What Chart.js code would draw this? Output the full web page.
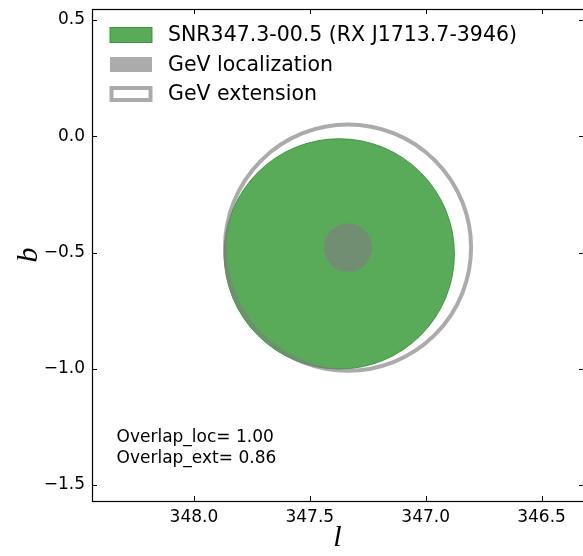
<!DOCTYPE html>
<html>
<head>
<meta charset="utf-8">
<script src="https://cdn.jsdelivr.net/npm/chart.js@4.4.1/dist/chart.umd.min.js"></script>
<style>
  html, body { margin: 0; padding: 0; background: #fff; }
  #wrap { width: 583px; height: 556px; }
</style>
</head>
<body>
<div id="wrap"><canvas id="c" width="583" height="556"></canvas></div>
<script>
// Sky regions in Galactic coordinates (degrees): centre l, centre b, radius
const regionNames = ['SNR347.3-00.5 (RX J1713.7-3946)', 'GeV localization', 'GeV extension'];
const snrRegion = [347.373, -0.506, 0.497];
const gevLocRegion = [347.335, -0.479, 0.104];
const gevExtRegion = [347.335, -0.479, 0.531];

// Axis limits and tick values
const lLimits = [346.321, 348.440];
const bLimits = [-1.569, 0.5475];
const lTicks = [348.0, 347.5, 347.0, 346.5];
const bTicks = [0.5, 0.0, -0.5, -1.0, -1.5];

// Annotation lines
const overlapLines = ['Overlap_loc= 1.00', 'Overlap_ext= 0.86'];

const FONT = "'DejaVu Sans', sans-serif";

// Point radius in pixels for a radius given in degrees
function radiusPx(ctx) {
  const raw = ctx.raw;
  const s = ctx.chart.scales && ctx.chart.scales.x;
  if (!raw || !s || !s.width) return 0;
  const r = Math.abs(s.getPixelForValue(raw.x + raw.rad) - s.getPixelForValue(raw.x));
  return isFinite(r) ? r : 0;
}

function region(arr) {
  return [{ x: arr[0], y: arr[1], rad: arr[2] }];
}

const fmt = v => v.toFixed(1).replace('-', '\u2212');

// Frame with inward tick marks on all four sides (right spine sits on the canvas edge)
const framePlugin = {
  id: 'frame',
  afterDraw(chart) {
    const { ctx, chartArea: a, scales } = chart;
    const right = a.right + 1;
    ctx.save();
    ctx.strokeStyle = '#000';
    ctx.lineWidth = 1;
    const L = 5;
    ctx.beginPath();
    lTicks.forEach(v => {
      const px = Math.round(scales.x.getPixelForValue(v)) + 0.5;
      ctx.moveTo(px, a.bottom); ctx.lineTo(px, a.bottom - L);
      ctx.moveTo(px, a.top); ctx.lineTo(px, a.top + L);
    });
    bTicks.forEach(v => {
      const py = Math.round(scales.y.getPixelForValue(v)) + 0.5;
      ctx.moveTo(a.left, py); ctx.lineTo(a.left + L, py);
      ctx.moveTo(right, py); ctx.lineTo(right - L, py);
    });
    ctx.stroke();
    ctx.lineWidth = 1.2;
    ctx.strokeRect(a.left + 0.5, a.top + 0.5, right - a.left, a.bottom - a.top);
    ctx.restore();
  }
};

// Legend box in the upper-left of the plot area
const legendPlugin = {
  id: 'regionLegend',
  afterDraw(chart) {
    const { ctx, chartArea: a } = chart;
    ctx.save();
    const x0 = a.left + 18, w = 42, h = 15, gap = 29.5, y0 = a.top + 26;
    const styles = [
      { fill: '#59ab59', stroke: 'rgba(44,150,44,0.9)', lw: 1 },
      { fill: 'rgba(128,128,128,0.66)', stroke: null, lw: 0 },
      { fill: '#ffffff', stroke: 'rgba(128,128,128,0.66)', lw: 4 }
    ];
    regionNames.forEach((name, i) => {
      const cy = y0 + i * gap;
      const s = styles[i];
      ctx.fillStyle = s.fill;
      ctx.fillRect(x0, cy - h / 2, w, h);
      if (s.stroke) {
        ctx.strokeStyle = s.stroke;
        ctx.lineWidth = s.lw;
        ctx.strokeRect(x0 + s.lw / 2 - 0.5, cy - h / 2 + s.lw / 2 - 0.5, w - s.lw + 1, h - s.lw + 1);
      }
      ctx.fillStyle = '#000';
      ctx.font = '20.5px ' + FONT;
      ctx.textBaseline = 'middle';
      ctx.textAlign = 'left';
      ctx.fillText(name, x0 + w + 16, cy + 1);
    });
    ctx.restore();
  }
};

// Overlap figures in the lower-left corner
const notePlugin = {
  id: 'note',
  afterDraw(chart) {
    const { ctx, chartArea: a } = chart;
    ctx.save();
    ctx.fillStyle = '#000';
    ctx.font = '17px ' + FONT;
    ctx.textBaseline = 'middle';
    ctx.textAlign = 'left';
    const x = a.left + 0.05 * (a.right - a.left);
    overlapLines.forEach((t, i) => {
      ctx.fillText(t, x, a.bottom - 0.128 * (a.bottom - a.top) + i * 21);
    });
    ctx.restore();
  }
};

new Chart(document.getElementById('c'), {
  type: 'scatter',
  data: {
    datasets: [
      {
        label: regionNames[2],
        data: region(gevExtRegion),
        showLine: false,
        pointBackgroundColor: 'rgba(0,0,0,0)',
        pointBorderColor: 'rgba(128,128,128,0.66)',
        pointBorderWidth: 4,
        pointRadius: radiusPx,
        clip: false,
        order: 0
      },
      {
        label: regionNames[1],
        data: region(gevLocRegion),
        showLine: false,
        pointBackgroundColor: 'rgba(128,128,128,0.66)',
        pointBorderColor: 'rgba(0,0,0,0)',
        pointBorderWidth: 0,
        pointRadius: radiusPx,
        clip: false,
        order: 1
      },
      {
        label: regionNames[0],
        data: region(snrRegion),
        showLine: false,
        pointBackgroundColor: '#59ab59',
        pointBorderColor: 'rgba(44,150,44,0.9)',
        pointBorderWidth: 1,
        pointRadius: radiusPx,
        clip: false,
        order: 2
      }
    ]
  },
  options: {
    responsive: false,
    animation: false,
    devicePixelRatio: 1,
    events: [],
    layout: { padding: { top: 9, right: 0, left: 0, bottom: 0 } },
    plugins: { legend: { display: false }, tooltip: { enabled: false } },
    scales: {
      x: {
        type: 'linear',
        reverse: true,
        min: lLimits[0],
        max: lLimits[1],
        afterBuildTicks: s => { s.ticks = lTicks.map(v => ({ value: v })); },
        afterFit: s => { s.height = 55; s.paddingLeft = 0; s.paddingRight = 0; },
        grid: { display: false, drawTicks: false },
        border: { display: false },
        ticks: {
          callback: v => fmt(v),
          font: { family: FONT, size: 17 },
          color: '#000',
          padding: 6,
          maxRotation: 0,
          autoSkip: false
        },
        title: {
          display: true,
          text: 'l',
          font: { family: "'Liberation Serif', serif", size: 30, style: 'italic' },
          color: '#000',
          padding: { top: 3, bottom: 0 }
        }
      },
      y: {
        type: 'linear',
        min: bLimits[0],
        max: bLimits[1],
        afterBuildTicks: s => { s.ticks = bTicks.map(v => ({ value: v })); },
        afterFit: s => { s.width = 92; s.paddingTop = 0; s.paddingBottom = 0; },
        grid: { display: false, drawTicks: false },
        border: { display: false },
        ticks: {
          callback: v => fmt(v),
          font: { family: FONT, size: 17 },
          color: '#000',
          padding: 7,
          autoSkip: false
        },
        title: {
          display: true,
          text: 'b',
          font: { family: "'Liberation Serif', serif", size: 30, style: 'italic' },
          color: '#000',
          padding: { top: 11, bottom: 0 }
        }
      }
    }
  },
  plugins: [framePlugin, legendPlugin, notePlugin]
});
</script>
</body>
</html>
